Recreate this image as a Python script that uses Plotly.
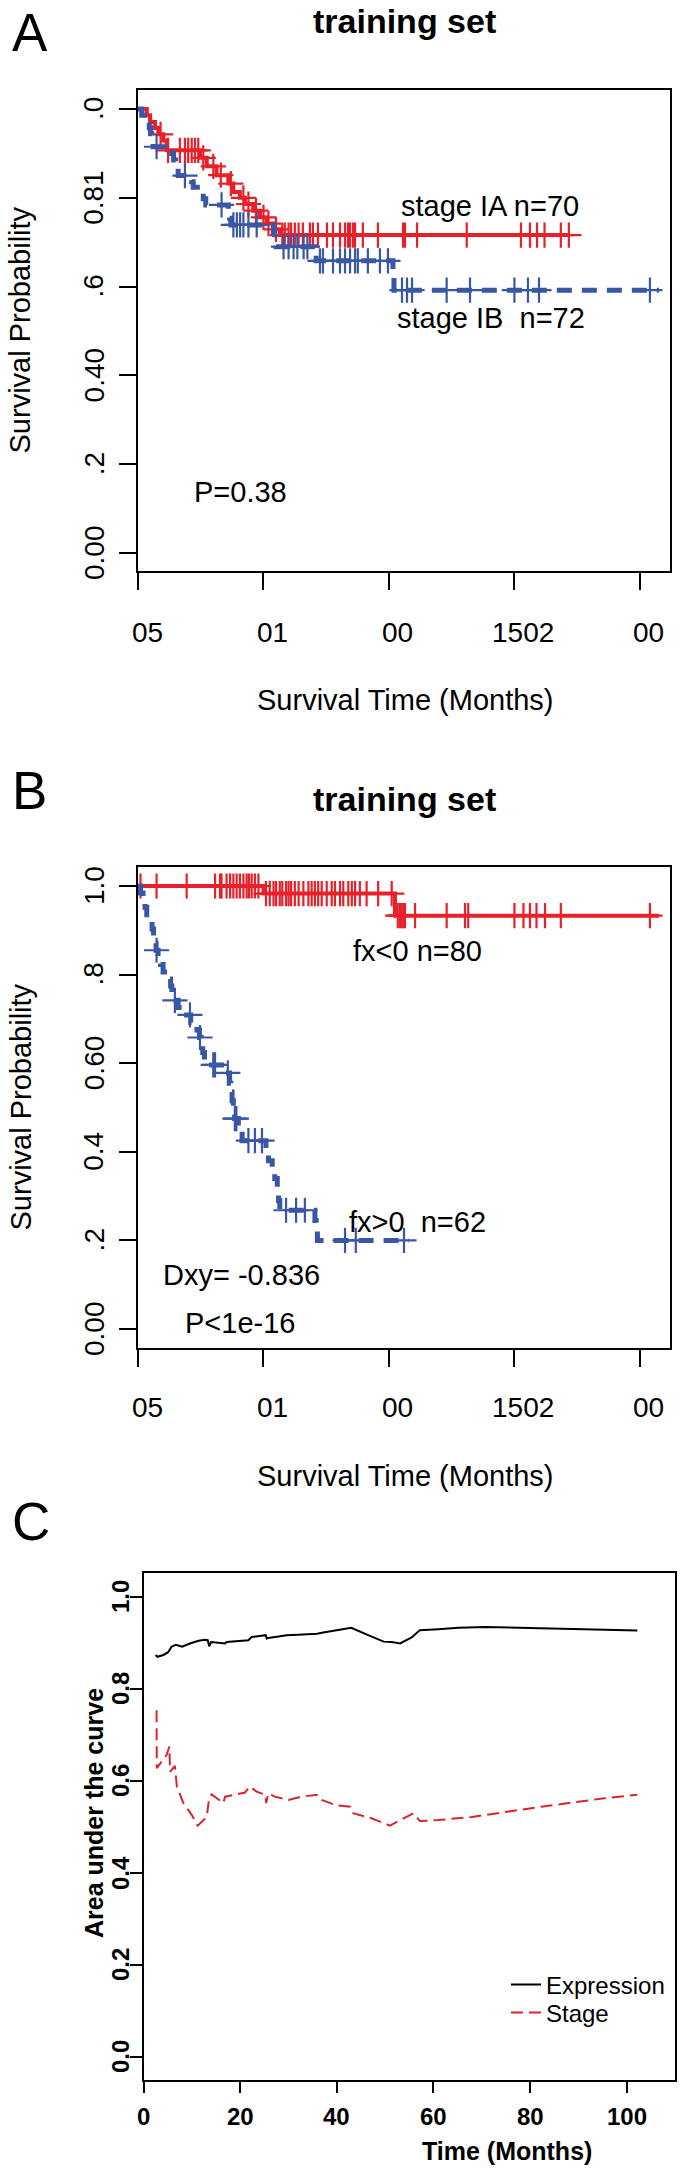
import plotly.graph_objects as go

W, H = 684, 2175

# ---------------- Panel A data (training set, stage) ----------------
A_red_event_t = [3.5, 4.8, 6.8, 8.1, 10.1, 11.4, 24.7, 27.4, 31.3, 36.0, 38.0, 40.6, 42.6, 45.9, 48.6, 51.3, 53.9, 56.6]
A_red_event_s = [0.986, 0.971, 0.957, 0.943, 0.929, 0.907, 0.890, 0.871, 0.851, 0.832, 0.813, 0.800, 0.786, 0.771, 0.756, 0.742, 0.729, 0.716]
A_red_censor_t = [9.0, 12.0, 16.7, 18.7, 20.0, 21.4, 22.7, 24.0, 26.0, 30.0, 33.0, 37.0, 42.0, 44.0, 47.0, 50.0, 52.0, 55.0,
                  57.5, 58.5, 60.0, 61.0, 62.5, 64.0, 65.7, 68.5, 69.7, 71.7, 75.3, 77.7, 80.5, 82.5, 83.7, 84.5, 85.7,
                  86.5, 89.6, 95.6, 105.6, 106.4, 111.2, 131.0, 152.6, 156.2, 159.0, 162.0, 168.5, 171.7]
A_red_end = 171.7

A_blue_event_t = [1.5, 3.5, 4.5, 5.0, 5.5, 6.0, 13.4, 14.2, 15.0, 16.0, 21.4, 22.0, 25.0, 26.0, 27.0, 36.0, 36.5, 37.0,
                  54.0, 54.5, 55.0, 70.5, 71.0, 101.6, 102.0]
A_blue_event_s = [0.986, 0.972, 0.958, 0.944, 0.929, 0.915, 0.900, 0.885, 0.870, 0.850, 0.836, 0.824, 0.812, 0.798, 0.784,
                  0.769, 0.754, 0.739, 0.722, 0.706, 0.690, 0.673, 0.658, 0.625, 0.592]
A_blue_censor_t = [7.4, 18.7, 33.3, 38.0, 39.4, 40.7, 42.0, 44.0, 47.3, 58.0, 60.0, 62.0, 63.5, 66.0, 67.5, 72.5, 73.7,
                   77.7, 80.5, 82.5, 84.5, 86.5, 87.6, 91.6, 96.4, 99.6, 105.2, 107.2, 109.2, 123.0, 132.3, 150.0,
                   155.4, 159.8, 204.0]
A_blue_end = 207.6

KM_x_ticks = [0, 50, 100, 150, 200]
KM_x_ticktext = ["05", "01", "00", "1502", "00"]
KM_y_ticks = [0, 0.2, 0.4, 0.6, 0.8, 1.0]
A_y_ticktext = ["0.00", ".2", "0.40", ".6", "0.81", ".0"]

# ---------------- Panel B data (training set, risk score) ----------------
B_red_event_t = [50.0, 102.4]
B_red_event_s = [0.983, 0.933]
B_red_censor_t = [1.0, 7.4, 19.4, 30.7, 32.7, 33.3, 35.3, 36.7, 38.0, 39.3, 40.6, 42.0, 43.3, 44.2, 45.3, 46.6, 48.0,
                  51.0, 52.5, 54.0, 55.0, 56.5, 57.5, 59.0, 60.0, 61.0, 62.5, 64.0, 65.9, 67.9, 69.2, 70.5, 71.8,
                  73.2, 75.2, 77.2, 78.5, 80.5, 81.8, 83.8, 85.2, 86.5, 88.4, 91.1, 95.7, 101.1,
                  103.5, 104.4, 105.0, 105.7, 106.4, 110.4, 123.0, 130.3, 131.6, 150.0, 153.6, 156.2, 158.8,
                  162.2, 168.5, 204.0]
B_red_end = 207.6

B_blue_event_t = [1.0, 2.0, 2.8, 3.5, 5.0, 5.6, 6.2, 6.8, 7.2, 8.0, 9.0, 10.0, 12.5, 13.0, 13.5, 14.0, 16.0, 18.0,
                  21.0, 23.5, 24.5, 25.2, 25.8, 26.5, 27.0, 35.0, 36.5, 37.0, 37.5, 38.0, 38.5, 40.0, 41.5,
                  51.0, 52.0, 53.5, 54.5, 55.5, 56.0, 56.5, 70.5, 71.0, 71.5]
B_blue_event_s = [0.984, 0.968, 0.952, 0.935, 0.919, 0.903, 0.887, 0.871, 0.855, 0.839, 0.823, 0.806, 0.790, 0.774,
                  0.758, 0.742, 0.726, 0.709, 0.692, 0.675, 0.658, 0.641, 0.624, 0.607, 0.596, 0.578, 0.555, 0.535,
                  0.515, 0.495, 0.475, 0.448, 0.425, 0.400, 0.380, 0.360, 0.340, 0.310, 0.290, 0.268, 0.245, 0.222,
                  0.200]
B_blue_censor_t = [7.4, 14.7, 20.7, 24.7, 30.0, 30.7, 35.8, 38.6, 39.2, 44.0, 46.6, 49.4, 59.0, 63.0, 66.5,
                   82.5, 86.8, 106.0]
B_blue_end = 108.0

B_y_ticktext = ["0.00", ".2", "0.4", "0.60", ".8", "1.0"]

# ---------------- Panel C data (time-dependent AUC) ----------------
C_time_expr = [2.5, 2.9, 4.1, 5.1, 5.8, 6.7, 8.0, 9.6, 11.4, 12.7, 13.3, 13.6, 14.0, 15.8, 16.9, 17.2, 19.6, 21.7,
               22.4, 24.5, 25.3, 25.5, 25.8, 27.9, 29.6, 32.0, 35.9, 37.2, 40.3, 43.0, 46.5, 49.7, 51.4, 53.1,
               55.5, 57.2, 61.0, 65.2, 70.7, 74.8, 78.0, 90.0, 102.2]
C_auc_expr = [0.874, 0.870, 0.874, 0.880, 0.892, 0.896, 0.892, 0.899, 0.905, 0.907, 0.906, 0.893, 0.902, 0.901,
              0.899, 0.902, 0.904, 0.906, 0.913, 0.915, 0.917, 0.910, 0.911, 0.914, 0.917, 0.918, 0.920, 0.923,
              0.928, 0.933, 0.917, 0.903, 0.902, 0.899, 0.912, 0.928, 0.930, 0.933, 0.935, 0.934, 0.933, 0.930,
              0.927]
C_time_stage = [2.7, 2.75, 4.8, 5.35, 5.5, 6.5, 6.9, 8.25, 10.0, 11.2, 13.1, 13.56, 14.1, 15.5, 16.5, 16.9, 19.3,
                21.0, 22.0, 23.4, 25.2, 25.4, 25.8, 27.2, 30.0, 32.7, 35.9, 36.9, 39.6, 42.8, 43.4, 47.2, 51.0,
                53.8, 55.9, 57.2, 61.0, 68.0, 74.8, 82.3, 95.0, 102.2]
C_auc_stage = [0.754, 0.628, 0.657, 0.675, 0.620, 0.633, 0.588, 0.552, 0.526, 0.503, 0.522, 0.562, 0.571, 0.561,
               0.552, 0.566, 0.571, 0.575, 0.588, 0.577, 0.570, 0.552, 0.573, 0.566, 0.559, 0.566, 0.570, 0.559,
               0.548, 0.544, 0.530, 0.519, 0.503, 0.519, 0.530, 0.513, 0.515, 0.522, 0.533, 0.544, 0.562, 0.570]
C_x_ticks = [0, 20, 40, 60, 80, 100]
C_x_ticktext = ["0", "20", "40", "60", "80", "100"]
C_y_ticks = [0.0, 0.2, 0.4, 0.6, 0.8, 1.0]
C_y_ticktext = ["0.0", "0.2", "0.4", "0.6", "0.8", "1.0"]

# ---------------- styling ----------------
RED = "#E8202A"
BLUE = "#3A57A5"
C_RED = "#D7262B"
FONT = "Liberation Sans, Arial, sans-serif"


def km_path(ev_t, ev_s, end_t):
    xs = [0.0] + list(ev_t) + [end_t]
    ys = [1.0] + list(ev_s) + [ev_s[-1]]
    return xs, ys


def km_at(t, ev_t, ev_s):
    s = 1.0
    for et, es in zip(ev_t, ev_s):
        if et <= t:
            s = es
    return s


def px(x, y):
    return x / W, 1 - y / H


fig = go.Figure()


def add_km(ev_t, ev_s, cens, end_t, color, dash, width, xa, ya):
    xs, ys = km_path(ev_t, ev_s, end_t)
    fig.add_trace(go.Scatter(x=xs, y=ys, mode="lines", line=dict(color=color, width=width, dash=dash, shape="hv"),
                             showlegend=False, xaxis=xa, yaxis=ya, hoverinfo="skip"))
    fig.add_trace(go.Scatter(x=cens, y=[km_at(t, ev_t, ev_s) for t in cens], mode="markers",
                             marker=dict(symbol="cross-thin", size=18, line=dict(color=color, width=2.2)),
                             showlegend=False, xaxis=xa, yaxis=ya, hoverinfo="skip"))


add_km(A_red_event_t, A_red_event_s, A_red_censor_t, A_red_end, RED, "solid", 4, "x", "y")
add_km(A_blue_event_t, A_blue_event_s, A_blue_censor_t, A_blue_end, BLUE, "15px,10px", 5, "x", "y")
add_km(B_red_event_t, B_red_event_s, B_red_censor_t, B_red_end, RED, "solid", 4, "x2", "y2")
add_km(B_blue_event_t, B_blue_event_s, B_blue_censor_t, B_blue_end, BLUE, "15px,10px", 5, "x2", "y2")

fig.add_trace(go.Scatter(x=C_time_expr, y=C_auc_expr, mode="lines", name="Expression",
                         line=dict(color="black", width=2), xaxis="x3", yaxis="y3", legend="legend"))
fig.add_trace(go.Scatter(x=C_time_stage, y=C_auc_stage, mode="lines", name="Stage",
                         line=dict(color=C_RED, width=2, dash="12px,6px"), xaxis="x3", yaxis="y3", legend="legend2"))

axis_common = dict(showline=True, mirror=True, linecolor="black", linewidth=2, showgrid=False, zeroline=False,
                   ticks="outside", tickcolor="black", tickwidth=2, showticklabels=False)

kmx = dict(axis_common, range=[0, 212], tickvals=KM_x_ticks, ticklen=17)
kmy = dict(axis_common, tickvals=KM_y_ticks, ticklen=17)

fig.update_layout(
    width=W, height=H, margin=dict(l=0, r=0, t=0, b=0),
    paper_bgcolor="white", plot_bgcolor="white",
    xaxis=dict(kmx, domain=[138 / W, 670 / W], anchor="y"),
    yaxis=dict(kmy, domain=[1 - 571 / H, 1 - 90 / H], range=[-0.0405, 1.0428], anchor="x"),
    xaxis2=dict(kmx, domain=[138 / W, 670 / W], anchor="y2"),
    yaxis2=dict(kmy, domain=[1 - 1348 / H, 1 - 867 / H], range=[-0.0429, 1.0429], anchor="x2"),
    xaxis3=dict(axis_common, domain=[143.5 / W, 675 / W], range=[0, 110], tickvals=C_x_ticks, ticklen=11,
                anchor="y3"),
    yaxis3=dict(axis_common, domain=[1 - 2080 / H, 1 - 1573 / H], range=[-0.05, 1.0522], tickvals=C_y_ticks,
                ticklen=12, anchor="x3"),
    legend=dict(x=506 / W, y=1 - 1985 / H, xanchor="left", yanchor="middle", bgcolor="rgba(0,0,0,0)",
                borderwidth=0, font=dict(family=FONT, size=24, color="black")),
    legend2=dict(x=506 / W, y=1 - 2013 / H, xanchor="left", yanchor="middle", bgcolor="rgba(0,0,0,0)",
                 borderwidth=0, font=dict(family=FONT, size=24, color="black")),
    showlegend=True,
)


def ann(text, x, y, size, family=FONT, bold=False, angle=0, xanchor="center", xref="paper", yref="paper",
        xshift=0):
    fig.add_annotation(text=text, x=x, y=y, xref=xref, yref=yref, showarrow=False, xshift=xshift,
                       xanchor=xanchor, yanchor="middle", textangle=angle,
                       font=dict(family=family, size=size, color="black", weight="bold" if bold else "normal"))


def annp(text, x, y, size, **kw):
    ax, ay = px(x, y)
    ann(text, ax, ay, size, **kw)


# tick labels (placed on the axes' own scales)
for v, t in zip(KM_x_ticks, KM_x_ticktext):
    ann(t, v, 1 - 632 / H, 28, xref="x", xshift=9)
    ann(t, v, 1 - 1407 / H, 28, xref="x2", xshift=9)
for v, t in zip(KM_y_ticks, A_y_ticktext):
    ann(t, 94 / W, v, 28, yref="y", angle=-90)
for v, t in zip(KM_y_ticks, B_y_ticktext):
    ann(t, 94 / W, v, 28, yref="y2", angle=-90)
for v, t in zip(C_x_ticks, C_x_ticktext):
    ann(t, v, 1 - 2116.5 / H, 24, bold=True, xref="x3")
for v, t in zip(C_y_ticks, C_y_ticktext):
    ann(t, 120 / W, v, 24, bold=True, yref="y3", angle=-90)

# panel letters
annp("A", 29.5, 32.5, 53)
annp("B", 29.5, 790, 53)
annp("C", 30.5, 1521, 53)
# titles
annp("training set", 405, 21.5, 34, bold=True)
annp("training set", 405, 799, 34, bold=True)
# axis titles
annp("Survival Probability", 20, 330.5, 29, angle=-90)
annp("Survival Probability", 20, 1107.5, 29, angle=-90)
annp("Survival Time (Months)", 405.8, 700, 29)
annp("Survival Time (Months)", 405.8, 1476, 29)
annp("Area under the curve", 94, 1813, 25, bold=True, angle=-90)
annp("Time (Months)", 507, 2151, 25, bold=True)
# in-plot labels
annp("stage IA n=70", 399, 206, 29, xanchor="left")
annp("stage IB  n=72", 395, 318, 29, xanchor="left")
annp("P=0.38", 192, 491.5, 29, xanchor="left")
annp("fx&lt;0 n=80", 351, 950.5, 29, xanchor="left")
annp("fx&gt;0  n=62", 347, 1221.5, 29, xanchor="left")
annp("Dxy= -0.836", 161, 1275, 29, xanchor="left")
annp("P&lt;1e-16", 183, 1323.3, 29, xanchor="left")

fig.write_html("out.html", config={"displayModeBar": False},
               post_script="document.body.style.margin='0px';")
